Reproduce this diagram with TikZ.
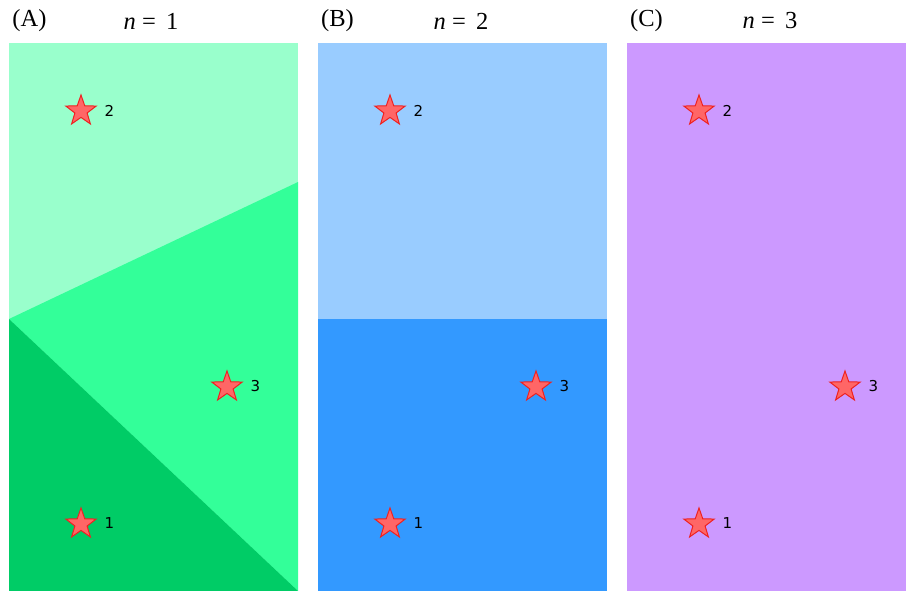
\documentclass[tikz,border=0pt]{standalone}
\usepackage{fontspec}
\setmainfont{Liberation Serif}
\newfontfamily\lblfont{DejaVu Sans}
\usetikzlibrary{shapes.geometric}
\definecolor{aTop}{HTML}{99FFCC}
\definecolor{aMid}{HTML}{33FF99}
\definecolor{aBot}{HTML}{00CC66}
\definecolor{bTop}{HTML}{99CCFF}
\definecolor{bBot}{HTML}{3399FF}
\definecolor{cAll}{HTML}{CC99FF}
\definecolor{starfill}{HTML}{FF6666}
\definecolor{starline}{HTML}{EE2222}
\tikzset{
  site/.style={star, star points=5, star point ratio=2.5, minimum size=32pt, inner sep=0pt,
    fill=starfill, draw=starline, line width=1pt},
  sitelbl/.style={font=\lblfont\fontsize{15}{18}\selectfont, anchor=west, inner sep=0pt},
  title/.style={font=\fontsize{24.5}{28}\selectfont, inner sep=0pt}
}
\begin{document}
\begin{tikzpicture}[x=1pt,y=-1pt]
\useasboundingbox (0,0) rectangle (906,591);
% Panel A
\fill[aTop] (9,43) rectangle (298,591);
\fill[aMid] (9,319) -- (298,182) -- (298,591) -- cycle;
\fill[aBot] (9,319) -- (298,591) -- (9,591) -- cycle;
% Panel B
\fill[bTop] (318,43) rectangle (607,319);
\fill[bBot] (318,319) rectangle (607,591);
% Panel C
\fill[cAll] (627,43) rectangle (916,591);
% titles
\node[title] (tA) at (29.5,21) {(A)};
\node[title] (nA) at (151,21) {\textit{n} = \,1};
\node[title] (tB) at (337.5,21) {(B)};
\node[title] (nB) at (461,21) {\textit{n} = \,2};
\node[title] (tC) at (646.5,21) {(C)};
\node[title] (nC) at (770,21) {\textit{n} = \,3};
% stars
\foreach \p/\dx in {A/0,B/309,C/618}{
  \node[site] (s2\p) at (81+\dx,111) {};
  \node[site] (s3\p) at (227+\dx,387) {};
  \node[site] (s1\p) at (81+\dx,524) {};
  \node[sitelbl] (l2\p) at (104.5+\dx,110.5) {2};
  \node[sitelbl] (l3\p) at (250.5+\dx,386.5) {3};
  \node[sitelbl] (l1\p) at (104.5+\dx,523.5) {1};
}
\end{tikzpicture}
\end{document}
